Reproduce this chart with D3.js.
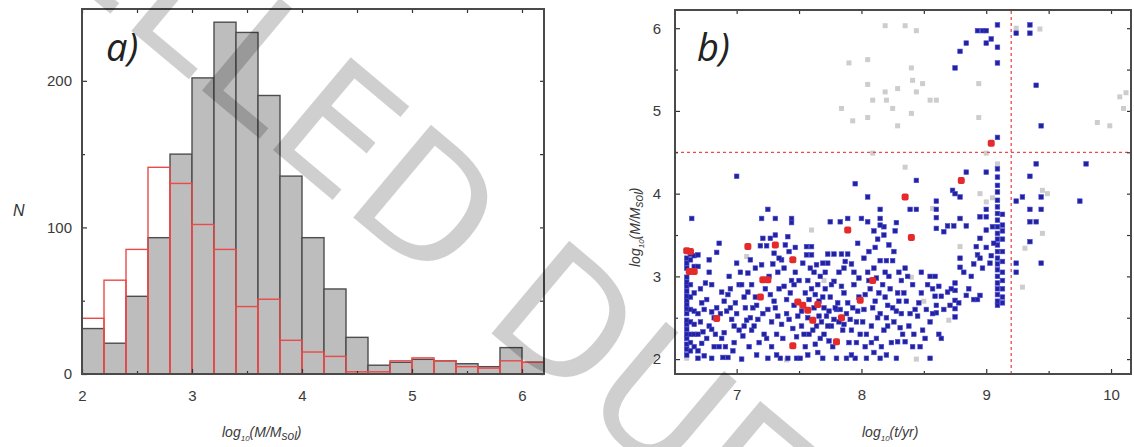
<!DOCTYPE html>
<html><head><meta charset="utf-8">
<script src="https://cdn.jsdelivr.net/npm/d3@7"></script>
<style>body{margin:0;background:#fff}</style>
</head><body>
<svg id="c" width="1134" height="447"></svg>
<script>
// ---------- Panel a: histogram data ----------
const binStarts = [2.0,2.2,2.4,2.6,2.8,3.0,3.2,3.4,3.6,3.8,4.0,4.2,4.4,4.6,4.8,5.0,5.2,5.4,5.6,5.8,6.0];
const binWidth = 0.2;
const allCounts = [31,21,53,93,150,202,240,233,190,135,93,58,25,6,8,10,9,7,5,18,8];
const subCounts = [38,64,85,141,130,102,85,46,51,23,15,12,1.5,1.5,9,11,9,5,4,9,8];
const histXTicks = [2,3,4,5,6];
const histXMinor = [2.5,3.5,4.5,5.5];
const histYTicks = [0,100,200];
const histYMinor = [50,150];

// ---------- Panel b: scatter data ----------
const scatXTicks = [7,8,9,10];
const scatXMinor = [7.5,8.5,9.5];
const scatYTicks = [2,3,4,5,6];
const scatYMinor = [2.5,3.5,4.5,5.5];
const massCut = 4.5;
const ageCut = 9.2;

const grayPoints = [[8.19,6.03],[8.35,6.03],[8.44,5.97],[7.90,5.58],[8.05,5.62],[8.40,5.52],[8.05,5.32],[8.41,5.37],[8.49,5.33],[8.19,5.23],[8.29,5.27],[8.44,5.23],[8.09,5.13],[8.20,5.13],[8.55,5.13],[8.60,5.13],[7.84,5.03],[8.25,5.03],[7.93,4.88],[8.05,4.92],[8.40,4.97],[8.29,4.82],[8.94,5.33],[8.94,4.92],[9.00,4.49],[8.35,4.32],[8.09,4.49],[9.24,6.00],[9.43,5.99],[9.89,4.86],[9.99,4.82],[10.07,5.17],[10.10,5.03],[10.12,5.22],[9.09,4.36],[8.95,4.00],[9.00,3.90],[9.45,4.04],[9.49,4.00],[8.79,3.36],[9.31,3.34],[9.29,2.87],[9.45,3.52],[8.70,2.47],[8.44,2.00],[8.57,3.82],[8.40,2.99],[7.60,3.56],[7.40,1.99],[6.60,2.01],[7.08,3.24],[7.70,2.95],[8.50,2.70],[9.05,3.95]];

const redPoints = [[6.60,3.31],[6.63,3.30],[6.62,3.06],[6.66,3.06],[7.09,3.36],[7.31,3.38],[7.45,3.20],[7.21,2.96],[7.25,2.96],[7.19,2.75],[6.84,2.49],[7.49,2.69],[7.53,2.65],[7.57,2.59],[7.61,2.47],[7.65,2.66],[7.84,2.50],[7.99,2.71],[8.09,2.95],[7.45,2.16],[7.80,2.21],[7.89,3.56],[8.40,3.47],[8.35,3.96],[8.80,4.16],[9.04,4.61]];

const bluePoints = [
[6.60,2.05],[6.60,2.12],[6.60,2.18],[6.60,2.25],[6.60,2.30],[6.60,2.36],[6.60,2.42],[6.60,2.47],[6.60,2.55],[6.60,2.61],[6.60,2.66],[6.60,2.71],[6.60,2.76],[6.60,2.82],[6.60,2.88],[6.60,2.93],[6.60,2.99],[6.60,3.10],[6.60,3.16],[6.60,3.22],
[6.63,2.10],[6.63,2.20],[6.63,2.30],[6.63,2.45],[6.63,2.60],[6.63,2.75],[6.63,2.90],[6.63,3.20],[6.63,3.27],
[6.66,2.15],[6.66,2.30],[6.66,2.42],[6.66,2.58],[6.66,2.80],[6.66,3.12],[6.66,3.25],
[6.69,2.01],[6.69,2.10],[6.69,2.30],[6.69,2.55],[6.69,3.12],[6.69,3.26],
[6.64,3.70],[6.74,2.04],[6.80,2.01],[6.89,2.02],[6.72,2.19],[6.76,2.25],[6.78,2.40],[6.73,2.33],[6.80,2.36],[6.82,2.50],[6.80,2.57],[6.84,2.62],[6.80,2.90],[6.74,2.60],[6.88,2.25],[6.90,2.32],[6.92,2.58],[6.95,2.62],[6.93,2.78],[6.88,2.81],[6.84,3.29],[6.86,3.40],[6.93,2.02],[6.98,2.40],[7.00,2.55],[7.02,2.90],[7.04,2.90],[7.00,3.16],[7.05,2.28],[7.04,2.00],[7.07,2.62],[7.09,2.81],[7.09,3.04],[7.08,2.47],[7.00,4.21],[6.98,2.20],[6.76,2.72],[6.86,2.15],[6.96,2.48],
[6.71,2.45],[6.71,2.85],[6.78,3.05],[6.82,2.15],[6.90,2.70],[6.94,3.00],[6.97,2.10],[7.02,2.35],[7.06,2.75],[7.10,2.15],[7.11,3.20],[6.72,2.68],[6.75,2.92],[6.78,3.20],[6.83,2.30],[6.87,2.55],[6.91,2.15],[6.95,2.85],[6.99,2.68],[7.03,3.05],[7.06,2.40],[7.11,2.50],
[7.12,2.35],[7.13,2.62],[7.15,2.75],[7.18,2.20],[7.20,3.14],[7.19,3.37],[7.24,3.37],[7.21,3.46],[7.27,3.46],[7.31,3.50],[7.25,3.81],[7.20,3.70],[7.31,3.70],[7.25,2.01],[7.23,2.85],[7.25,2.60],[7.28,2.45],[7.30,2.70],[7.32,2.30],[7.33,3.05],[7.35,2.01],[7.36,3.20],[7.38,2.88],[7.40,2.55],[7.41,3.48],[7.41,2.01],[7.42,3.30],[7.44,3.70],[7.44,3.65],[7.43,2.80],[7.45,2.37],[7.46,2.65],[7.47,3.05],[7.48,2.01],[7.48,2.27],[7.30,3.28],[7.34,3.22],[7.15,3.10],[7.17,2.48],[7.22,2.30],[7.26,3.00],[7.36,2.42],[7.12,2.90],[7.28,2.15],[7.38,3.10],[7.40,2.72],[7.33,2.52],[7.44,2.95],
[7.14,2.40],[7.16,2.65],[7.21,2.55],[7.24,2.25],[7.27,2.78],[7.29,3.15],[7.31,2.62],[7.34,2.85],[7.37,2.25],[7.39,3.38],[7.42,2.48],[7.46,2.90],[7.47,3.35],[7.49,2.52],[7.16,2.05],[7.32,2.05],
[7.51,2.01],[7.50,2.95],[7.53,3.16],[7.56,3.26],[7.60,3.26],[7.56,3.36],[7.60,3.36],[7.52,2.58],[7.55,2.80],[7.58,2.30],[7.62,2.62],[7.63,2.18],[7.65,2.90],[7.66,2.70],[7.68,2.45],[7.69,3.16],[7.73,3.16],[7.69,2.01],[7.70,2.30],[7.71,2.85],[7.73,3.27],[7.74,2.58],[7.75,3.66],[7.76,2.40],[7.78,3.27],[7.78,2.94],[7.80,2.01],[7.81,2.68],[7.83,3.66],[7.84,3.27],[7.82,3.05],[7.85,2.35],[7.86,2.80],[7.88,2.01],[7.89,3.27],[7.89,3.70],[7.88,2.55],[7.90,2.20],[7.92,3.15],[7.93,2.62],[7.94,2.90],[7.95,2.01],[7.95,4.12],[7.96,2.45],[7.97,3.40],[7.98,2.75],[7.99,2.30],[7.57,2.50],[7.64,2.40],[7.72,2.52],[7.78,2.48],[7.83,2.60],[7.67,3.00],[7.60,2.85],[7.55,2.15],[7.62,3.05],[7.58,2.72],[7.70,2.62],[7.75,2.75],[7.66,2.52],[7.80,2.60],[7.86,2.42],[7.92,2.35],[7.74,2.22],[7.52,2.40],[7.64,3.14],[7.86,3.10],[7.97,2.58],
[7.54,2.30],[7.57,2.95],[7.59,3.10],[7.61,2.35],[7.63,2.78],[7.67,2.25],[7.69,2.75],[7.71,3.05],[7.73,2.40],[7.76,2.90],[7.77,2.15],[7.79,2.62],[7.82,2.45],[7.84,2.88],[7.87,3.18],[7.89,2.68],[7.91,2.48],[7.94,3.05],[7.96,2.20],[7.98,2.98],[7.57,2.05],[7.65,2.08],[7.92,2.05],
[8.00,3.70],[8.02,2.60],[8.03,2.15],[8.04,2.01],[8.05,3.66],[8.05,3.96],[8.06,3.30],[8.07,2.85],[8.08,2.40],[8.10,3.10],[8.11,2.70],[8.12,2.25],[8.13,3.45],[8.15,3.81],[8.15,2.01],[8.15,3.19],[8.15,2.55],[8.17,2.90],[8.18,2.35],[8.18,3.60],[8.18,3.50],[8.20,3.19],[8.21,2.65],[8.22,3.00],[8.24,2.20],[8.25,3.19],[8.26,2.45],[8.27,3.55],[8.28,3.65],[8.28,2.01],[8.29,2.80],[8.29,2.21],[8.30,3.05],[8.32,2.55],[8.33,2.30],[8.35,2.21],[8.35,3.10],[8.36,2.70],[8.38,2.40],[8.39,3.81],[8.41,2.15],[8.41,2.90],[8.43,2.60],[8.44,3.81],[8.44,4.16],[8.45,2.52],[8.47,2.15],[8.48,2.80],[8.49,2.35],[8.10,3.55],[8.22,3.38],[8.08,2.20],[8.32,2.95],[8.12,2.98],[8.15,3.70],[8.15,3.62],[8.03,2.78],[8.19,2.75],[8.25,2.62],[8.05,3.05],[8.20,2.50],[8.30,2.70],[8.02,3.22],
[8.01,2.45],[8.04,2.30],[8.06,2.95],[8.09,2.62],[8.11,3.35],[8.13,2.50],[8.14,2.80],[8.16,2.15],[8.19,3.05],[8.21,2.40],[8.23,2.85],[8.26,3.30],[8.28,2.58],[8.31,2.38],[8.34,2.80],[8.37,3.00],[8.39,2.55],[8.42,2.30],[8.46,2.68],[8.48,3.05],[8.10,2.08],[8.20,2.05],
[8.52,2.60],[8.55,2.01],[8.55,3.00],[8.55,2.45],[8.57,2.85],[8.59,2.76],[8.59,3.00],[8.60,3.91],[8.60,3.81],[8.60,3.71],[8.60,3.58],[8.60,2.65],[8.60,2.56],[8.62,2.30],[8.64,2.25],[8.64,2.76],[8.66,3.54],[8.69,3.61],[8.69,2.81],[8.71,2.65],[8.73,4.04],[8.74,3.61],[8.75,4.00],[8.75,2.92],[8.75,2.83],[8.75,2.71],[8.75,2.61],[8.75,2.51],[8.79,3.70],[8.79,3.96],[8.79,3.11],[8.79,3.22],[8.80,4.16],[8.84,4.26],[8.84,3.61],[8.84,2.77],[8.88,3.00],[8.92,3.36],[8.93,3.26],[8.95,3.22],[8.95,2.77],[8.95,3.46],[8.95,3.72],[8.97,3.10],[9.00,3.72],[9.00,3.81],[9.00,3.56],[9.00,3.35],[9.00,4.26],[9.03,3.16],[8.90,2.72],[8.93,2.72],
[8.51,2.25],[8.53,2.90],[8.57,2.55],[8.62,2.88],[8.66,2.60],[8.72,2.85],[8.78,2.68],[8.82,3.05],[8.86,2.85],[8.90,3.15],
[9.09,4.30],[9.09,4.20],[9.09,4.10],[9.09,4.02],[9.09,3.92],[9.09,3.84],[9.09,3.76],[9.09,3.68],[9.09,3.60],[9.09,3.52],[9.09,3.45],[9.09,3.38],[9.09,3.30],[9.09,3.22],[9.09,3.15],[9.09,3.08],[9.09,3.00],[9.09,2.92],[9.09,2.85],[9.09,2.78],[9.09,2.70],[9.09,2.65],
[9.13,3.75],[9.13,3.62],[9.13,3.55],[9.13,3.45],[9.13,3.30],[9.13,3.18],[9.13,3.05],[9.13,2.95],[9.13,2.85],[9.13,2.75],[9.13,2.68],[9.05,3.60],[9.06,3.40],[9.04,3.25],
[8.93,5.97],[8.97,5.97],[9.00,5.97],[9.09,6.04],[9.04,5.87],[9.00,5.82],[9.09,5.77],[8.84,5.82],[8.79,5.72],[8.75,5.52],[9.09,5.58],[9.24,5.94],[9.35,5.94],[9.35,6.04],[9.40,5.31],[9.44,4.82],[9.09,4.68],[9.40,4.36],[9.80,4.36],[9.75,3.91],[9.35,4.21],[9.24,3.91],[9.29,3.96],[9.35,3.81],[9.44,3.81],[9.35,3.66],[9.40,3.66],[9.44,3.96],[9.35,3.42],[9.44,3.16],[9.24,3.16],[9.24,3.05]
];

// ---------- drawing ----------
const svg = d3.select("#c");
const tickFont = "'Liberation Sans', Arial, sans-serif";
const frameColor = "#4a4a4a";

function drawFrameAxes(g, x, y, xt, xm, yt, ym, xPad, yPad) {
  const [x0, x1] = x.range(), [y0, y1] = y.range();
  const styleAxis = sel => {
    sel.select(".domain").remove();
    sel.selectAll("line").attr("stroke", "#333").attr("stroke-width", 1.2);
    sel.selectAll("text").attr("font-family", tickFont).attr("font-size", 15).attr("fill", "#3a3a3a");
  };
  g.append("g").attr("transform", `translate(0,${y0})`)
    .call(d3.axisBottom(x).tickValues(xt).tickSize(-5).tickPadding(xPad).tickFormat(d3.format("d"))).call(styleAxis);
  g.append("g").attr("transform", `translate(0,${y0})`)
    .call(d3.axisBottom(x).tickValues(xm).tickSize(-3).tickFormat("")).call(styleAxis);
  g.append("g").attr("transform", `translate(0,${y1})`)
    .call(d3.axisTop(x).tickValues(xt.concat(xm)).tickSize(-4).tickFormat("")).call(styleAxis);
  g.append("g").attr("transform", `translate(${x0},0)`)
    .call(d3.axisLeft(y).tickValues(yt).tickSize(-5).tickPadding(yPad).tickFormat(d3.format("d"))).call(styleAxis);
  g.append("g").attr("transform", `translate(${x0},0)`)
    .call(d3.axisLeft(y).tickValues(ym).tickSize(-3).tickFormat("")).call(styleAxis);
  g.append("g").attr("transform", `translate(${x1},0)`)
    .call(d3.axisRight(y).tickValues(yt.concat(ym)).tickSize(-4).tickFormat("")).call(styleAxis);
  g.append("rect").attr("x", x0).attr("y", y1).attr("width", x1 - x0).attr("height", y0 - y1)
    .attr("fill", "none").attr("stroke", frameColor).attr("stroke-width", 2);
}

function logLabel(g, parts, attrs) {
  const t = g.append("text").attr("font-family", tickFont).attr("font-style", "italic")
    .attr("font-size", 14).attr("fill", "#3a3a3a");
  Object.entries(attrs).forEach(([k, v]) => t.attr(k, v));
  parts.forEach(([txt, sub]) => {
    const ts = t.append("tspan").text(txt);
    if (sub === 1) ts.attr("font-size", 8).attr("dy", 4);
    if (sub === 2) ts.attr("font-size", 12).attr("dy", 3);
    if (sub === -1) ts.attr("dy", -4);
    if (sub === -2) ts.attr("dy", -3);
  });
  return t;
}

// Panel a
const ga = svg.append("g");
const xa = d3.scaleLinear().domain([2, 6.2]).range([82, 544]);
const ya = d3.scaleLinear().domain([0, 249]).range([374, 9]);
ga.selectAll("rect.all").data(binStarts).join("rect").attr("class", "all")
  .attr("x", d => xa(d)).attr("width", d => xa(d + binWidth) - xa(d))
  .attr("y", (d, i) => ya(allCounts[i])).attr("height", (d, i) => ya(0) - ya(allCounts[i]))
  .attr("fill", "#bdbdbd").attr("stroke", "#4d4d4d").attr("stroke-width", 1.4);
ga.selectAll("rect.sub").data(binStarts).join("rect").attr("class", "sub")
  .attr("x", d => xa(d)).attr("width", d => xa(d + binWidth) - xa(d))
  .attr("y", (d, i) => ya(subCounts[i])).attr("height", (d, i) => ya(0) - ya(subCounts[i]))
  .attr("fill", "none").attr("stroke", "#ea4a4a").attr("stroke-width", 1.4);
drawFrameAxes(ga, xa, ya, histXTicks, histXMinor, histYTicks, histYMinor, 16, 10);
ga.append("text").attr("x", 106).attr("y", 61).attr("font-family", "'Open Sans', sans-serif")
  .attr("font-style", "italic").attr("font-size", 38).attr("fill", "#222").text("a)");
ga.append("text").attr("x", 13).attr("y", 216).attr("font-family", tickFont)
  .attr("font-style", "italic").attr("font-size", 16).attr("fill", "#333").text("N");
logLabel(ga, [["log", 0], ["10", 1], ["(M/M", -1], ["sol", 2], [")", -2]], {x: 222, y: 437});

// Panel b
const gb = svg.append("g");
const xb = d3.scaleLinear().domain([6.506, 10.16]).range([675, 1131]);
const yb = d3.scaleLinear().domain([1.82, 6.22]).range([374, 10]);
const plotB = gb.append("g");
plotB.selectAll("rect.gr").data(grayPoints).join("rect").attr("class", "gr")
  .attr("x", d => xb(d[0]) - 2.5).attr("y", d => yb(d[1]) - 2.5).attr("width", 5).attr("height", 5)
  .attr("fill", "#cdcdcd");
plotB.selectAll("rect.bl").data(bluePoints).join("rect").attr("class", "bl")
  .attr("x", d => xb(d[0]) - 2.3).attr("y", d => yb(d[1]) - 2.3).attr("width", 4.6).attr("height", 4.6)
  .attr("fill", "#22229a").attr("stroke", "#4a4ae0").attr("stroke-width", 0.6);
plotB.selectAll("rect.rd").data(redPoints).join("rect").attr("class", "rd")
  .attr("x", d => xb(d[0]) - 3.5).attr("y", d => yb(d[1]) - 3.5).attr("width", 7).attr("height", 7)
  .attr("rx", 2).attr("fill", "#e42a2a");
gb.append("line").attr("x1", xb.range()[0]).attr("x2", xb.range()[1])
  .attr("y1", yb(massCut)).attr("y2", yb(massCut))
  .attr("stroke", "#f04848").attr("stroke-width", 1.3).attr("stroke-dasharray", "3,3");
gb.append("line").attr("x1", xb(ageCut)).attr("x2", xb(ageCut))
  .attr("y1", yb.range()[0]).attr("y2", yb.range()[1])
  .attr("stroke", "#f04848").attr("stroke-width", 1.3).attr("stroke-dasharray", "3,3");
drawFrameAxes(gb, xb, yb, scatXTicks, scatXMinor, scatYTicks, scatYMinor, 15, 14);
gb.append("text").attr("x", 697).attr("y", 61).attr("font-family", "'Open Sans', sans-serif")
  .attr("font-style", "italic").attr("font-size", 38).attr("fill", "#222").text("b)");
logLabel(gb, [["log", 0], ["10", 1], ["(t/yr)", -1]], {x: 862, y: 437});
logLabel(gb, [["log", 0], ["10", 1], ["(M/M", -1], ["sol", 2], [")", -2]],
  {transform: "translate(640,267) rotate(-90)"});

// Watermark
const wmTarget = [565, 320];
const wmAngle = 40;
const wm = svg.append("g");
const wmText = wm.append("text").attr("font-family", "'DejaVu Sans', sans-serif")
  .attr("font-size", 166).attr("fill", "#000").attr("fill-opacity", 0.19).text("CANCELLED DUE TO");
const ci = "CANCELLED ".length;
const ext = wmText.node().getExtentOfChar(ci);
const cx = ext.x + ext.width / 2, cy = ext.y + ext.height / 2;
const a = wmAngle * Math.PI / 180;
const rx = cx * Math.cos(a) - cy * Math.sin(a), ry = cx * Math.sin(a) + cy * Math.cos(a);
wm.attr("transform", `translate(${wmTarget[0] - rx},${wmTarget[1] - ry}) rotate(${wmAngle})`);
</script>
</body></html>
